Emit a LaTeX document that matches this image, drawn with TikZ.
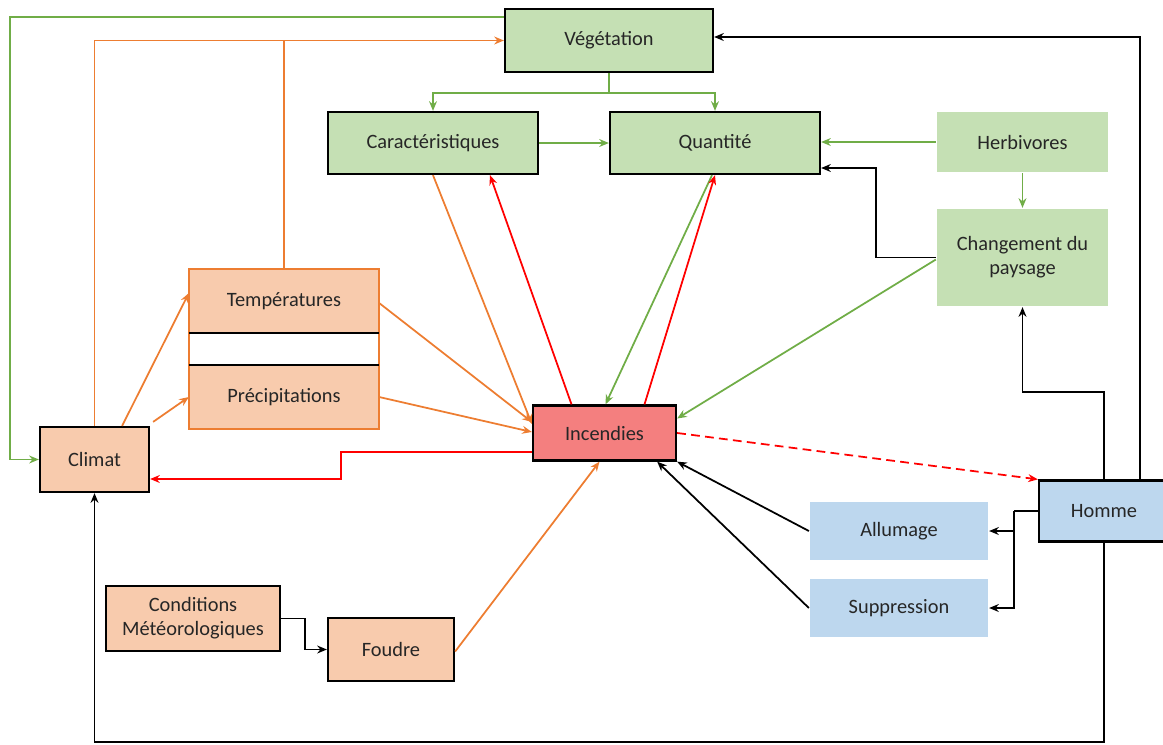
\documentclass[tikz,border=0pt]{standalone}
\usepackage{fontspec}
\setmainfont{Carlito}
\usetikzlibrary{arrows.meta}
\definecolor{vertfond}{HTML}{C5E0B4}
\definecolor{orangefond}{HTML}{F8CBAD}
\definecolor{rougefond}{HTML}{F47F7F}
\definecolor{bleufond}{HTML}{BDD7EE}
\definecolor{vertligne}{HTML}{70AD47}
\definecolor{orangeligne}{HTML}{ED7D31}
\definecolor{rougeligne}{HTML}{FF0000}
\tikzset{
  boite/.style={draw=black,line width=1.3pt,text=black!85,align=center,inner sep=2pt},
  vert/.style={boite,fill=vertfond},
  vertpale/.style={boite,draw=none,fill=vertfond},
  orange/.style={boite,fill=orangefond},
  rouge/.style={boite,fill=rougefond},
  bleu/.style={boite,fill=bleufond},
  bleupale/.style={boite,draw=none,fill=bleufond},
  gline/.style={draw=vertligne,line width=1pt},
  oline/.style={draw=orangeligne,line width=1pt},
  rline/.style={draw=rougeligne,line width=1pt},
  kline/.style={draw=black,line width=1pt}
}
\begin{document}
\begin{tikzpicture}[x=0.02cm,y=-0.02cm,font=\fontsize{11.6}{13.6}\selectfont,>={Stealth[length=5.5pt,width=4.5pt]}]
\useasboundingbox (0,0) rectangle (1163,744);
\node[vert,minimum width=4.16cm,minimum height=1.26cm] (veg) at (609,40.5) {Végétation};
\node[vert,minimum width=4.2cm,minimum height=1.24cm] (carac) at (433,143) {Caractéristiques};
\node[vert,minimum width=4.2cm,minimum height=1.24cm] (quant) at (715,143) {Quantité};
\node[vertpale,minimum width=3.42cm,minimum height=1.2cm] (herb) at (1022.5,142) {Herbivores};
\node[vertpale,minimum width=3.42cm,minimum height=1.94cm] (chg) at (1022.5,257.5) {Changement du\\paysage};
\node[orange,draw=none,minimum width=3.76cm,minimum height=1.24cm] (temp) at (284,301) {Températures};
\node[orange,draw=none,minimum width=3.76cm,minimum height=1.24cm] (prec) at (284,397) {Précipitations};
\draw[oline] (temp.north west) rectangle (prec.south east);
\draw[line width=1.3pt] (temp.south west) -- (temp.south east);
\draw[line width=1.3pt] (prec.north west) -- (prec.north east);
\node[orange,minimum width=2.18cm,minimum height=1.3cm] (climat) at (94.5,459.5) {Climat};
\node[rouge,minimum width=2.86cm,minimum height=1.1cm] (inc) at (604.5,433) {Incendies};
\node[bleu,minimum width=2.6cm,minimum height=1.22cm] (homme) at (1104,511) {Homme};
\node[bleupale,minimum width=3.56cm,minimum height=1.16cm] (allu) at (899,531) {Allumage};
\node[bleupale,minimum width=3.56cm,minimum height=1.16cm] (supp) at (899,608) {Suppression};
\node[orange,line width=1.1pt,minimum width=3.48cm,minimum height=1.3cm] (cond) at (193,618.5) {Conditions\\Météorologiques};
\node[orange,minimum width=2.52cm,minimum height=1.26cm] (foudre) at (391,649.5) {Foudre};
% vegetation
\draw[gline,->] ([yshift=-0.18cm]veg.north west) -| (10,459.5) -- (climat.west);
\draw[oline,->] (climat.north) |- (veg.west);
\draw[oline] (temp.north) -- (temp.north |- veg.west);
\draw[gline] (veg.south) -- ++(0,20) coordinate (vb);
\draw[gline,->] (vb) -| (carac.north);
\draw[gline,->] (vb) -| (quant.north);
\draw[gline,->] (carac) -- (quant);
\draw[gline,->] (herb.west) -- (herb.west -| quant.east);
\draw[gline,->] (herb) -- (chg);
\draw[kline,->] (chg.west) -- ++(-60,0) |- ([yshift=-0.5cm]quant.east);
\draw[gline,->] ([yshift=-0.04cm]chg.west) -- ([yshift=0.29cm]inc.east);
\draw[gline,->] ([xshift=-0.06cm]quant.south) -- ([xshift=0.02cm]inc.north);
% incendies
\draw[rline,->] ([xshift=0.8cm]inc.north) -- (quant.south);
\draw[rline,->] ([xshift=-0.66cm]inc.north) -- ([xshift=1.14cm]carac.south);
\draw[rline,->] ([yshift=-0.38cm]inc.west) -| (341,479) -- ([yshift=-0.39cm]climat.east);
\draw[rline,dash pattern=on 5pt off 3pt,->] (inc.east) -- (homme.north west);
\draw[oline,->] (carac.south) -- ([yshift=0.18cm]inc.west);
\draw[oline,->] ([yshift=-0.04cm]temp.east) -- ([yshift=0.22cm]inc.west);
\draw[oline,->] (prec.east) -- ([yshift=0.02cm]inc.west);
\draw[oline,->] ([xshift=-0.56cm]climat.north east) -- ([yshift=0.16cm]temp.west);
\draw[oline,->] ([xshift=0.06cm,yshift=0.08cm]climat.north east) -- (prec.west);
\draw[oline,->] ([yshift=-0.04cm]foudre.east) -- ([xshift=-0.1cm]inc.south);
\draw[kline,->] (cond.east) -- ++(24,0) |- (foudre.west);
% homme
\draw[kline,->] ([xshift=0.72cm]homme.north) |- ([yshift=0.07cm]veg.east);
\draw[kline,->] (homme.north) -- ++(0,-87) -| (chg.south);
\draw[kline] (homme.west) -- ++(-24,0) coordinate (hw);
\draw[kline,->] (hw) |- (allu.east);
\draw[kline,->] (hw) |- (supp.east);
\draw[kline,->] (allu.west) -- (inc.south east);
\draw[kline,->] (supp.west) -- ([xshift=-0.4cm]inc.south east);
\draw[kline,->] (homme.south) -- (1104,742) -| (climat.south);
\end{tikzpicture}
\end{document}
